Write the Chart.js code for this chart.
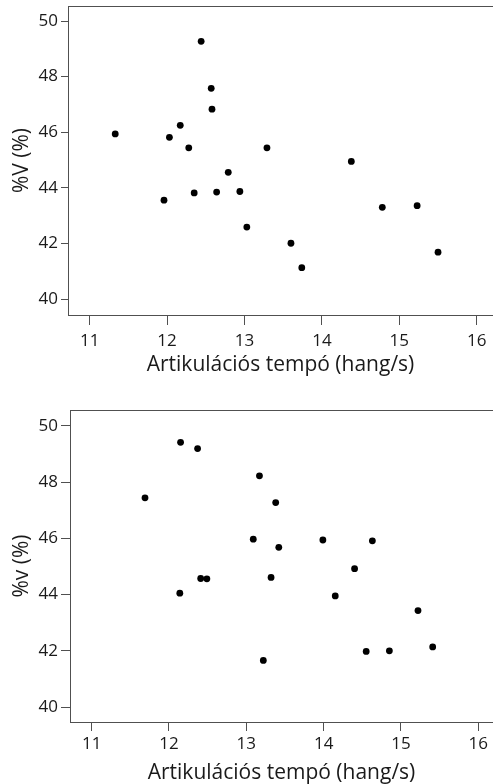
<!DOCTYPE html>
<html>
<head>
<meta charset="utf-8">
<script src="https://cdn.jsdelivr.net/npm/chart.js@4/dist/chart.umd.min.js"></script>
<style>
  html, body { margin: 0; padding: 0; background: #fff; width: 493px; height: 784px; overflow: hidden; }
  canvas { position: absolute; left: 0; }
  #c1 { top: 0; }
  #c2 { top: 390px; }
</style>
</head>
<body>
<canvas id="c1" width="493" height="390"></canvas>
<canvas id="c2" width="493" height="394"></canvas>
<script>
// Top chart data
const tempoTop = [11.33, 12.44, 12.57, 12.58, 12.17, 12.03, 12.28, 13.29, 14.38, 12.79, 12.35, 12.64, 12.94, 11.96, 14.78, 15.23, 13.03, 13.60, 13.74, 15.50];
const vTop     = [45.94, 49.27, 47.58, 46.83, 46.25, 45.82, 45.44, 45.44, 44.95, 44.56, 43.82, 43.85, 43.87, 43.56, 43.30, 43.36, 42.59, 42.01, 41.13, 41.69];
// Bottom chart data
const tempoBottom = [12.15, 12.37, 13.17, 11.69, 13.38, 13.09, 13.99, 14.63, 13.42, 14.40, 12.41, 12.49, 13.32, 12.14, 14.15, 15.22, 15.41, 14.55, 14.85, 13.22];
const vBottom     = [49.41, 49.19, 48.22, 47.44, 47.27, 45.97, 45.94, 45.91, 45.68, 44.92, 44.57, 44.56, 44.61, 44.05, 43.95, 43.43, 42.14, 41.98, 42.00, 41.66];
// Axis texts
const xTitle = 'Artikulációs tempó (hang/s)';
const yTitleTop = '%V (%)';
const yTitleBottom = '%v (%)';
const xTicks = [11, 12, 13, 14, 15, 16];
const yTicks = [40, 42, 44, 46, 48, 50];

const FONT = "'Open Sans', sans-serif";
const LINE = '#505050';
const TEXT = '#1a1a1a';

const topBorder = {
  id: 'topBorder',
  afterDraw(chart) {
    const {ctx, chartArea} = chart;
    ctx.save();
    ctx.strokeStyle = LINE;
    ctx.lineWidth = 1;
    ctx.beginPath();
    const y = Math.round(chartArea.top) + 0.5;
    ctx.moveTo(chartArea.left, y);
    ctx.lineTo(chartArea.right, y);
    ctx.stroke();
    ctx.restore();
  }
};

function makeChart(id, xs, ys, yTitle, g) {
  const pts = xs.map((x, i) => ({x: x, y: ys[i]}));
  return new Chart(document.getElementById(id), {
    type: 'scatter',
    data: { datasets: [{ data: pts, backgroundColor: '#000', borderColor: '#000', pointRadius: 3.4, pointHoverRadius: 3.4, borderWidth: 0, clip: false }] },
    options: {
      responsive: false,
      animation: false,
      devicePixelRatio: 1,
      layout: { autoPadding: false, padding: { top: g.top, left: 0, right: 0, bottom: 0 } },
      plugins: { legend: { display: false }, tooltip: { enabled: false } },
      scales: {
        x: {
          type: 'linear',
          min: g.xmin, max: g.xmax,
          afterBuildTicks(scale) { scale.ticks = xTicks.map(v => ({value: v})); },
          afterFit(scale) { scale.height = g.xh; scale.paddingLeft = 0; scale.paddingRight = 0; },
          ticks: { font: { family: FONT, size: 17 }, color: TEXT, padding: g.xpad, maxRotation: 0, autoSkip: false },
          grid: { drawOnChartArea: false, drawTicks: true, tickLength: g.xtl, color: LINE, lineWidth: 1 },
          border: { display: true, color: LINE, width: 1 },
          title: { display: true, text: xTitle, font: { family: FONT, size: 21, lineHeight: 1.2 }, color: TEXT, padding: { top: 0, bottom: g.xtp } }
        },
        y: {
          type: 'linear',
          min: g.ymin, max: g.ymax,
          afterBuildTicks(scale) { scale.ticks = yTicks.map(v => ({value: v})); },
          afterFit(scale) { scale.width = g.yw; scale.paddingTop = 0; scale.paddingBottom = 0; },
          ticks: { font: { family: FONT, size: 17 }, color: TEXT, padding: 3 },
          grid: { drawOnChartArea: false, drawTicks: true, tickLength: g.ytl, color: LINE, lineWidth: 1 },
          border: { display: true, color: LINE, width: 1 },
          title: { display: true, text: yTitle, font: { family: FONT, size: 21, lineHeight: 1.2 }, color: TEXT, padding: { top: 9, bottom: 0 } }
        }
      }
    },
    plugins: [topBorder]
  });
}

makeChart('c1', tempoTop, vTop, yTitleTop,
  { top: 6, yw: 68, xh: 75, xmin: 10.72, xmax: 16.21, ymin: 39.43, ymax: 50.54, xtl: 10, ytl: 7, xpad: 6, xtp: 12 });
makeChart('c2', tempoBottom, vBottom, yTitleBottom,
  { top: 20, yw: 70, xh: 62, xmin: 10.72, xmax: 16.19, ymin: 39.47, ymax: 50.56, xtl: 9, ytl: 9, xpad: 3, xtp: -2 });
</script>
</body>
</html>
